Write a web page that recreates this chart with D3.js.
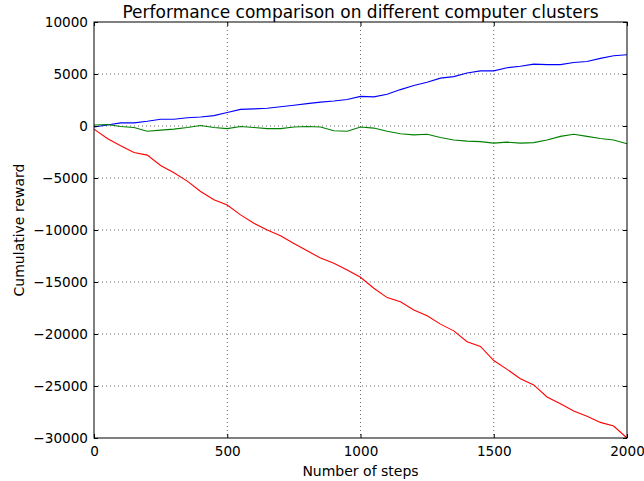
<!DOCTYPE html>
<html>
<head>
<meta charset="utf-8">
<script src="https://cdn.jsdelivr.net/npm/d3@7"></script>
<style>
  body { margin: 0; background: #fff; }
  text { font-family: "DejaVu Sans", sans-serif; fill: #000; }
  .grid line { stroke: #000; stroke-width: 0.6; stroke-dasharray: 1,3; }
</style>
</head>
<body>
<div id="chart"></div>
<script>

var steps = [0, 50, 100, 150, 200, 250, 300, 350, 400, 450, 500, 550, 600, 650, 700,
  750, 800, 850, 900, 950, 1000, 1050, 1100, 1150, 1200, 1250, 1300, 1350, 1400,
  1450, 1500, 1550, 1600, 1650, 1700, 1750, 1800, 1850, 1900, 1950, 2000];

var blueReward = [-100, 100, 300, 300, 450, 650, 650, 800, 870, 1000, 1300, 1600, 1650,
  1700, 1850, 2000, 2150, 2300, 2400, 2550, 2850, 2800, 3050, 3500, 3900, 4200, 4600,
  4750, 5100, 5300, 5300, 5600, 5750, 5950, 5900, 5900, 6100, 6200, 6500, 6750, 6850];

var greenReward = [100, 150, -50, -150, -500, -400, -300, -150, 50, -150, -250, -50, -150,
  -250, -250, -100, -50, -100, -450, -500, -100, -200, -500, -750, -850, -800, -1100,
  -1350, -1450, -1500, -1650, -1550, -1650, -1600, -1350, -1000, -800, -1000, -1200,
  -1350, -1700];

var redReward = [-300, -1200, -1900, -2550, -2800, -3800, -4500, -5300, -6300, -7100,
  -7600, -8550, -9350, -10000, -10550, -11300, -12000, -12700, -13200, -13850, -14550,
  -15600, -16500, -16900, -17700, -18250, -19050, -19700, -20750, -21200, -22550,
  -23400, -24300, -24900, -26050, -26700, -27400, -27900, -28500, -28850, -30000];

var xTicks = [0, 500, 1000, 1500, 2000];
var yTicks = [-30000, -25000, -20000, -15000, -10000, -5000, 0, 5000, 10000];

var series = [
  {values: blueReward, color: "#0000ff"},
  {values: greenReward, color: "#008000"},
  {values: redReward, color: "#ff0000"}
];

// outer and inner sizes
var margin = {top: 22, right: 17, bottom: 43, left: 94},
    width = 644 - margin.left - margin.right,
    height = 481 - margin.top - margin.bottom;

var svg = d3.select("#chart")
  .append("svg")
    .attr("width", 644)
    .attr("height", 481);

var chart = svg.append("g")
    .attr("transform", "translate(" + margin.left + "," + margin.top + ")");

var x = d3.scaleLinear()
  .domain([0, 2000])
  .range([0, width]);

var y = d3.scaleLinear()
  .domain([-30000, 10000])
  .range([height, 0]);

// dotted grid
chart.append("g")
    .attr("class", "grid")
  .selectAll("line")
  .data(xTicks.slice(1, -1))
  .enter().append("line")
    .attr("x1", function(d) { return x(d); })
    .attr("x2", function(d) { return x(d); })
    .attr("y1", 0)
    .attr("y2", height);

chart.append("g")
    .attr("class", "grid")
  .selectAll("line")
  .data(yTicks.slice(1, -1))
  .enter().append("line")
    .attr("x1", 0)
    .attr("x2", width)
    .attr("y1", function(d) { return y(d); })
    .attr("y2", function(d) { return y(d); });

// the three reward curves
var line = d3.line()
  .x(function(d, i) { return x(steps[i]); })
  .y(function(d) { return y(d); });

chart.selectAll(".curve")
  .data(series)
  .enter().append("path")
    .attr("class", "curve")
    .attr("fill", "none")
    .attr("stroke", function(d) { return d.color; })
    .attr("stroke-width", 1.1)
    .attr("d", function(d) { return line(d.values); });

// axes, ticks pointing inwards on all four sides
var fmt = d3.format("d");

function styleAxis(g) {
  g.select(".domain").remove();
  g.selectAll(".tick line").attr("stroke", "#000");
  g.selectAll(".tick text").style("font-size", "13.6px").style("font-family", "DejaVu Sans, sans-serif");
}

chart.append("g")
    .attr("transform", "translate(0," + height + ")")
    .call(d3.axisBottom(x).tickValues(xTicks).tickFormat(fmt).tickSizeInner(-4).tickPadding(8))
    .call(styleAxis);

chart.append("g")
    .call(d3.axisTop(x).tickValues(xTicks).tickFormat("").tickSizeInner(-4))
    .call(styleAxis);

chart.append("g")
    .call(d3.axisLeft(y).tickValues(yTicks).tickFormat(fmt).tickSizeInner(-4).tickPadding(6))
    .call(styleAxis);

chart.append("g")
    .attr("transform", "translate(" + width + ",0)")
    .call(d3.axisRight(y).tickValues(yTicks).tickFormat("").tickSizeInner(-4))
    .call(styleAxis);

// frame
chart.append("rect")
    .attr("width", width)
    .attr("height", height)
    .attr("fill", "none")
    .attr("stroke", "#000")
    .attr("stroke-width", 1);

// labels
svg.append("text")
    .attr("x", margin.left + width / 2)
    .attr("y", 18)
    .attr("text-anchor", "middle")
    .style("font-size", "17px")
    .text("Performance comparison on different computer clusters");

svg.append("text")
    .attr("x", margin.left + width / 2)
    .attr("y", 476)
    .attr("text-anchor", "middle")
    .style("font-size", "14px")
    .text("Number of steps");

svg.append("text")
    .attr("transform", "translate(24," + (margin.top + height / 2) + ") rotate(-90)")
    .attr("text-anchor", "middle")
    .style("font-size", "14px")
    .text("Cumulative reward");

</script>
</body>
</html>
